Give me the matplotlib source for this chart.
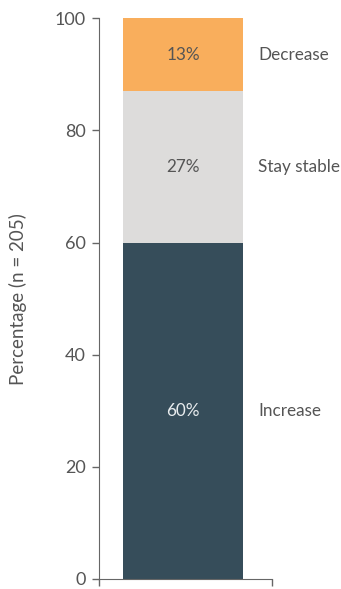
import matplotlib.pyplot as plt

categories = ["Increase", "Stay stable", "Decrease"]
values = [60, 27, 13]
colors = ["#364d5a", "#dddcdb", "#f9ae5c"]
text_colors = ["#e8ecee", "#555555", "#555555"]

plt.rcParams['font.family'] = ['Lato', 'DejaVu Sans']
gray = "#555555"
fs = 12.3

fig = plt.figure(figsize=(3.41, 5.89), dpi=100)
ax = fig.add_axes([0.289, 0.017, 0.509, 0.952])

bottom = 0
for cat, val, col, tc in zip(categories, values, colors, text_colors):
    ax.bar(0, val, width=0.6, bottom=bottom, color=col)
    mid = bottom + val / 2
    ax.text(0, mid, f"{val}%", ha="center", va="center", color=tc, fontsize=fs)
    ax.text(0.375, mid, cat, ha="left", va="center", color=gray,
            fontsize=fs, clip_on=False)
    bottom += val

ax.set_xlim(-0.4225, 0.445)
ax.set_ylim(0, 100)
ax.set_yticks([0, 20, 40, 60, 80, 100])
ax.set_xticks([-0.4225, 0.445])
ax.set_xticklabels(["", ""])
ax.tick_params(axis="both", colors="#666666", labelcolor=gray, labelsize=13,
               length=5, width=1, pad=4)
for s in ["top", "right"]:
    ax.spines[s].set_visible(False)
for s in ["left", "bottom"]:
    ax.spines[s].set_color("#666666")
ax.set_ylabel("Percentage (n = 205)", color=gray, fontsize=13.5, labelpad=20)

fig.savefig("out.png", dpi=100)
